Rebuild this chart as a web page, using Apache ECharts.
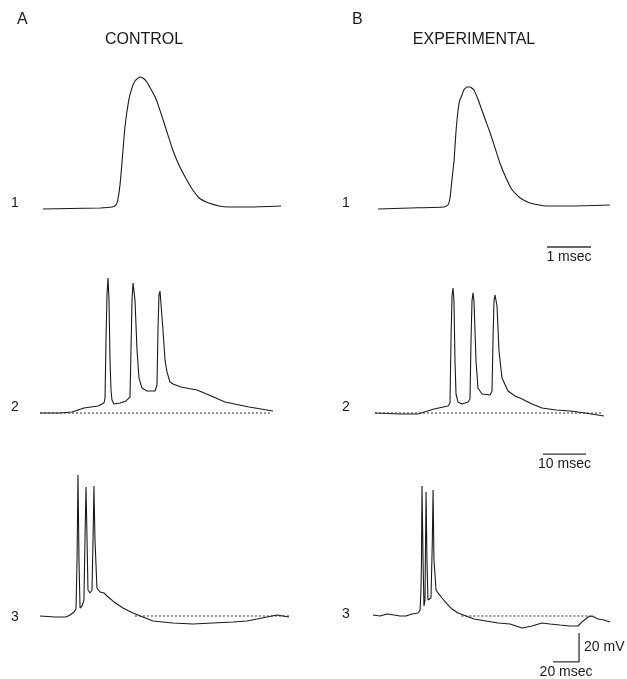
<!DOCTYPE html>
<html>
<head>
<meta charset="utf-8">
<script src="https://cdn.jsdelivr.net/npm/echarts@6/dist/echarts.min.js"></script>
<style>
html,body{margin:0;padding:0;background:#fff;}
#chart{width:627px;height:679px;}
</style>
</head>
<body>
<div id="chart"></div>
<script>
// ---- data: time (ms) vs membrane potential (mV above resting level) ----
const panelTitles = ["CONTROL", "EXPERIMENTAL"];
const panelLetters = ["A", "B"];
const rowLabels = ["1", "2", "3"];

const controlRow1 = [[0,0],[0.61,0.3],[1.30,0.7],[1.57,1.4],[1.66,2.8],[1.70,6.2],[1.75,16.6],[1.80,33.8],[1.86,55.9],[1.95,75.2],[2.02,83.4],[2.09,88.3],[2.16,90.3],[2.20,91.0],[2.27,90.3],[2.36,87.6],[2.45,82.8],[2.55,77.2],[2.64,69.7],[2.73,61.4],[2.84,51.0],[2.95,40.7],[3.09,30.3],[3.23,22.1],[3.39,13.8],[3.55,7.6],[3.77,4.1],[4.0,2.1],[4.23,1.4],[4.70,1.4],[5.41,2.1]];
const expRow1 = [[0,0],[0.73,0.7],[1.50,1.4],[1.59,2.8],[1.64,8.3],[1.68,20],[1.73,33.8],[1.77,52.4],[1.82,68.3],[1.86,75.2],[1.91,78.6],[1.95,82.1],[2.02,84.1],[2.09,84.1],[2.18,82.1],[2.27,75.9],[2.36,68.3],[2.45,60.7],[2.55,52.4],[2.66,42.1],[2.77,31.7],[2.91,21.4],[3.05,13.1],[3.23,7.6],[3.45,4.1],[3.82,2.1],[4.36,2.1],[5.27,2.8]];

const controlRow2 = [[0,0],[4.65,0],[7.44,0.7],[10.23,3.4],[13.49,4.8],[14.88,6.9],[15.12,10.3],[15.35,50.3],[15.58,81.4],[15.81,93.1],[16.05,77.9],[16.28,36.6],[16.51,15.9],[16.74,9.0],[17.21,6.2],[18.6,6.9],[20.0,8.3],[20.93,11.0],[21.16,43.4],[21.40,77.9],[21.63,89.7],[21.86,90.3],[22.09,77.9],[22.56,43.4],[23.02,24.1],[23.72,17.2],[24.88,15.2],[26.74,15.2],[27.21,19.3],[27.44,57.2],[27.67,81.4],[27.91,84.1],[28.14,82.8],[28.60,57.2],[29.07,36.6],[29.53,28.3],[30.23,21.4],[30.93,20.0],[32.79,17.9],[36.51,15.9],[39.3,12.4],[43.02,7.6],[48.6,4.1],[54.19,1.4]];
const expRow2 = [[0,0],[5.81,-0.7],[10,-0.7],[13.72,2.8],[16.98,4.8],[17.44,6.9],[17.67,49.7],[17.91,80.7],[18.14,86.2],[18.37,77.2],[18.6,35.9],[18.84,13.1],[19.3,7.6],[20.23,6.2],[21.63,7.6],[22.09,9.7],[22.33,49.7],[22.56,77.2],[22.79,82.8],[23.02,77.2],[23.49,35.9],[23.95,17.2],[24.88,13.1],[26.74,12.4],[27.21,15.2],[27.44,49.7],[27.67,77.2],[27.91,81.4],[28.37,73.8],[28.84,42.8],[29.53,24.1],[30.93,15.2],[32.56,11.7],[34.19,9.7],[36.51,6.2],[38.84,3.4],[42.1,2.1],[45.35,1.4],[48.84,0],[53.26,-2.1]];

const controlRow3 = [[0,0],[11.5,-0.7],[20,-0.7],[23.1,0.7],[26.2,2.8],[27.7,4.8],[28.5,38.6],[29.2,97.2],[30,38.6],[30.8,5.5],[32.3,6.9],[33.8,11.0],[34.6,52.4],[35.4,89.0],[36.2,52.4],[36.9,17.9],[38.5,15.9],[40,17.9],[40.8,52.4],[41.5,89.7],[42.3,52.4],[43.8,19.3],[46.2,16.6],[49.2,15.9],[51.5,13.8],[56.9,9.7],[63.8,5.5],[71.5,2.1],[79.2,-0.7],[86.9,-3.4],[102.3,-4.8],[117.7,-5.5],[133.1,-4.8],[148.5,-4.1],[159.2,-3.4],[166.9,-2.1],[174.6,-0.7],[182.3,0.7],[186.9,0],[191.5,-0.7]];
const expRow3 = [[0,0.7],[5.4,0],[10.8,1.4],[16.2,0.7],[20.8,0],[25.4,0],[30,1.4],[34.6,2.1],[36.2,4.1],[36.9,17.9],[37.3,38.6],[37.7,89.7],[38.5,38.6],[39.2,6.9],[40,11],[40.8,85.5],[41.5,38.6],[42.3,11.0],[44.6,12.4],[45.6,50.0],[46.2,86.9],[46.9,38.6],[48.5,17.9],[50,15.9],[53.1,12.4],[56.2,9.0],[60.8,4.8],[65.4,2.1],[71.5,0],[77.7,-2.1],[86.9,-3.4],[96.2,-4.8],[105.4,-5.5],[114.6,-8.3],[122.3,-6.9],[130,-4.8],[136.2,-5.5],[143.8,-6.2],[151.5,-6.9],[157.7,-6.9],[160.8,-4.1],[165.4,-0.7],[168.5,0],[173.1,-2.1],[177.7,-2.8],[182.3,-4.1]];

// dashed resting-level lines: [start ms, end ms] at 0 mV
const restLineRow2 = [[0, 53.5], [0, 52.8]];
const restLineRow3 = [[73, 191.5], [68, 167.7]];

// scale bars (ms, mV)
const scaleBarRow1 = {t0: 3.84, ms: 1, v: -26.2, label: "1 msec"};
const scaleBarRow2 = {t0: 39.07, ms: 10, v: -28.3, label: "10 msec"};
const scaleBarRow3 = {t0: 138.5, ms: 20, v0: -11.7, mv: 20, labelT: "20 msec", labelV: "20 mV"};

const traces = [[controlRow1, expRow1], [controlRow2, expRow2], [controlRow3, expRow3]];
const xMax = [[5.41, 5.27], [54.19, 53.26], [191.5, 182.3]];

// ---- layout ----
const pxPerMs = [44, 4.3, 1.3];
const pxPerMv = 1.45;
const yMin = -40, yMax = 100;
const baselineY = [209, 413, 616];
const colLeft = [[43, 378], [40, 375], [40, 373]];
const ink = "#1a1a1a";
const font = "Liberation Sans, Arial, sans-serif";

const grids = [], xAxes = [], yAxes = [], series = [];
let idx = 0;
const gridIndex = {};
for (let r = 0; r < 3; r++) {
  for (let c = 0; c < 2; c++) {
    grids.push({
      left: colLeft[r][c],
      top: baselineY[r] - yMax * pxPerMv,
      width: xMax[r][c] * pxPerMs[r],
      height: (yMax - yMin) * pxPerMv
    });
    xAxes.push({type: "value", gridIndex: idx, min: 0, max: xMax[r][c], show: false});
    yAxes.push({type: "value", gridIndex: idx, min: yMin, max: yMax, show: false});
    series.push({
      type: "line", xAxisIndex: idx, yAxisIndex: idx,
      data: traces[r][c], showSymbol: false,
      smooth: r === 0 ? 0.15 : false,
      lineStyle: {color: ink, width: 1.1}, silent: true, animation: false, clip: false
    });
    gridIndex[r + "_" + c] = idx;
    idx++;
  }
}
function dashed(r, c, range) {
  series.push({
    type: "line", xAxisIndex: gridIndex[r + "_" + c], yAxisIndex: gridIndex[r + "_" + c],
    data: [[range[0], 0], [range[1], 0]], showSymbol: false,
    lineStyle: {color: "#333", width: 1, type: [2, 2]}, silent: true, animation: false
  });
}
dashed(1, 0, restLineRow2[0]); dashed(1, 1, restLineRow2[1]);
dashed(2, 0, restLineRow3[0]); dashed(2, 1, restLineRow3[1]);

function hBar(r, c, sb) {
  const g = gridIndex[r + "_" + c];
  series.push({
    type: "line", xAxisIndex: g, yAxisIndex: g,
    data: [[sb.t0, sb.v], [sb.t0 + sb.ms, sb.v]], showSymbol: false, clip: false,
    lineStyle: {color: "#333", width: 1.3}, silent: true, animation: false,
    markPoint: {
      symbol: "circle", symbolSize: 0,
      data: [{coord: [sb.t0 + sb.ms / 2, sb.v], label: {show: true, formatter: sb.label, position: "bottom", distance: 3, color: ink, fontSize: 14, fontFamily: font}}]
    }
  });
}
hBar(0, 1, scaleBarRow1);
hBar(1, 1, scaleBarRow2);
{
  const g = gridIndex["2_1"], sb = scaleBarRow3;
  const tEnd = sb.t0 + sb.ms, vEnd = sb.v0 - sb.mv;
  series.push({
    type: "line", xAxisIndex: g, yAxisIndex: g,
    data: [[tEnd, sb.v0], [tEnd, vEnd], [sb.t0, vEnd]], showSymbol: false, clip: false,
    lineStyle: {color: "#333", width: 1.3}, silent: true, animation: false,
    markPoint: {
      symbol: "circle", symbolSize: 0,
      data: [
        {coord: [tEnd, (sb.v0 + vEnd) / 2], label: {show: true, formatter: sb.labelV, position: "right", distance: 5, color: ink, fontSize: 14, fontFamily: font}},
        {coord: [tEnd - sb.ms / 2, vEnd], label: {show: true, formatter: sb.labelT, position: "bottom", distance: 3, color: ink, fontSize: 14, fontFamily: font}}
      ]
    }
  });
}

const graphics = [];
const letterX = [23, 358], titleX = [144, 474];
for (let c = 0; c < 2; c++) {
  graphics.push({type: "text", left: letterX[c] - 6, top: 12, style: {text: panelLetters[c], font: "16px " + font, fill: ink}});
  graphics.push({type: "text", x: titleX[c], y: 40, style: {text: panelTitles[c], font: "16px " + font, fill: ink, textAlign: "center", textVerticalAlign: "middle"}});
}
const rowLabelX = [15, 346];
const rowLabelY = [[203, 203], [407, 407], [617, 614]];
for (let r = 0; r < 3; r++) {
  for (let c = 0; c < 2; c++) {
    graphics.push({type: "text", x: rowLabelX[c], y: rowLabelY[r][c], style: {text: rowLabels[r], font: "14px " + font, fill: ink, textAlign: "center", textVerticalAlign: "middle"}});
  }
}

const chart = echarts.init(document.getElementById("chart"), null, {renderer: "canvas"});
chart.setOption({
  animation: false,
  backgroundColor: "#fff",
  grid: grids, xAxis: xAxes, yAxis: yAxes, series: series, graphic: graphics
});
</script>
</body>
</html>
